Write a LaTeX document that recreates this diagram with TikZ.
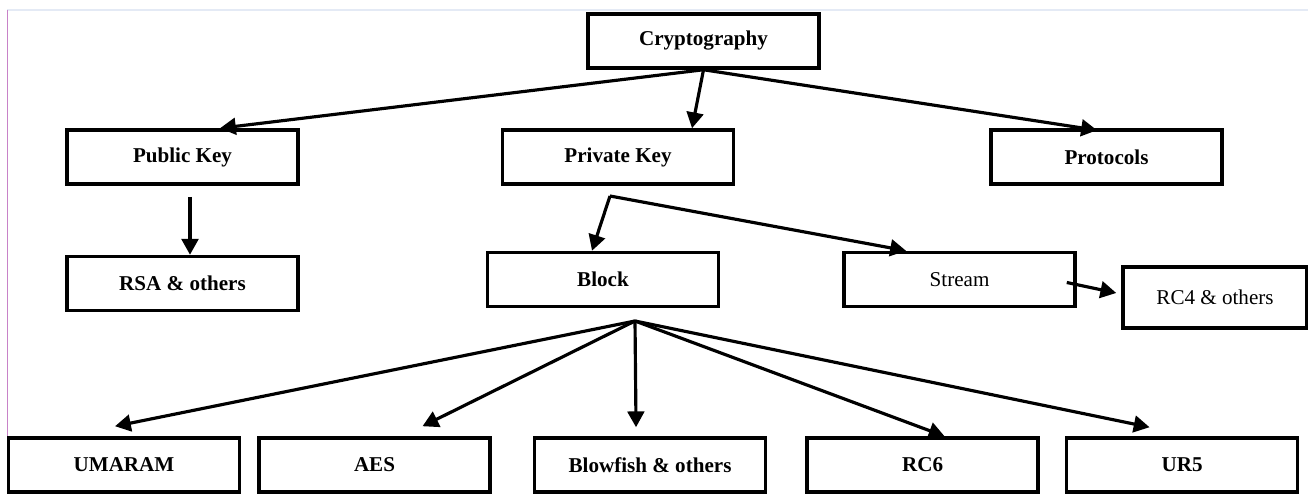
\documentclass[tikz,border=0pt]{standalone}
\usepackage{fontspec}
\setmainfont{Liberation Serif}
\usepackage{xcolor}
\usepackage{tikz}
\usetikzlibrary{arrows.meta,positioning,calc}
\definecolor{framegray}{RGB}{228,234,245}
\definecolor{framepink}{RGB}{200,130,200}

\begin{document}
\begin{tikzpicture}[
    node distance=1.4cm and 0.5cm,
    box/.style={rectangle, draw, line width=2pt, minimum width=4.62cm, minimum height=1.08cm, align=center, font=\fontsize{12}{14}\selectfont\bfseries},
    plainbox/.style={box, font=\fontsize{12}{14}\selectfont},
    arrow/.style={-{Triangle[length=9pt,width=9.5pt]}, line width=1.8pt}
]
\useasboundingbox (0,0) rectangle (26.16,-9.88);
% page frame
\draw[framegray, line width=0.8pt] (0.15,-0.2) -- (26.16,-0.2);
\draw[framepink, line width=1pt] (0.15,-0.2) -- (0.15,-9.84);
% nodes
\node[box] (crypto) at (14.07,-0.82) {Cryptography};
\node[box] (pub) at (3.65,-3.14) {Public Key};
\node[box] (priv) at (12.36,-3.14) {Private Key};
\node[box] (proto) at (22.13,-3.14) {Protocols};
\node[box, below=1.38cm of pub] (rsa) {RSA \& others};
\node[box] (block) at (12.06,-5.59) {Block};
\node[plainbox, right=2.44cm of block] (stream) {Stream};
\node[plainbox, minimum width=3.68cm, minimum height=1.22cm] (rc4) at (24.30,-5.95) {RC4 \& others};
\node[box] (umaram) at (2.48,-9.30) {UMARAM};
\node[box, right=0.32cm of umaram] (aes) {AES};
\node[box, right=0.82cm of aes] (blowfish) {Blowfish \& others};
\node[box, right=0.76cm of blowfish] (rc6) {RC6};
\node[box, right=0.50cm of rc6] (ur5) {UR5};
% branch points
\coordinate (privfork) at (12.20,-3.92);
\coordinate (blockfork) at (12.70,-6.42);
% connectors
\draw[arrow] (crypto.south) -- ($(pub.north)+(0.75,0)$);
\draw[arrow] (crypto.south) -- ($(priv.north)+(1.48,0)$);
\draw[arrow] (crypto.south) -- ($(proto.north)+(-0.19,-0.04)$);
\draw[arrow] ($(pub.south)+(0.15,-0.22)$) -- ($(rsa.north)+(0.15,0)$);
\draw[arrow] (privfork) -- ($(block.north)+(-0.22,0)$);
\draw[arrow] (privfork) -- ($(stream.north)+(-1.07,0)$);
\draw[arrow] ($(stream.east)+(-0.2,-0.06)$) -- ($(rc4.west)+(-0.1,0.09)$);
\draw[arrow] (blockfork) -- ($(umaram.north)+(-0.18,0.2)$);
\draw[arrow] (blockfork) -- ($(aes.north)+(0.96,0.2)$);
\draw[arrow] (blockfork) -- ($(blowfish.north)+(-0.28,0.18)$);
\draw[arrow] (blockfork) -- ($(rc6.north)+(0.44,0)$);
\draw[arrow] (blockfork) -- ($(ur5.north)+(-0.65,0.18)$);
\end{tikzpicture}
\end{document}
